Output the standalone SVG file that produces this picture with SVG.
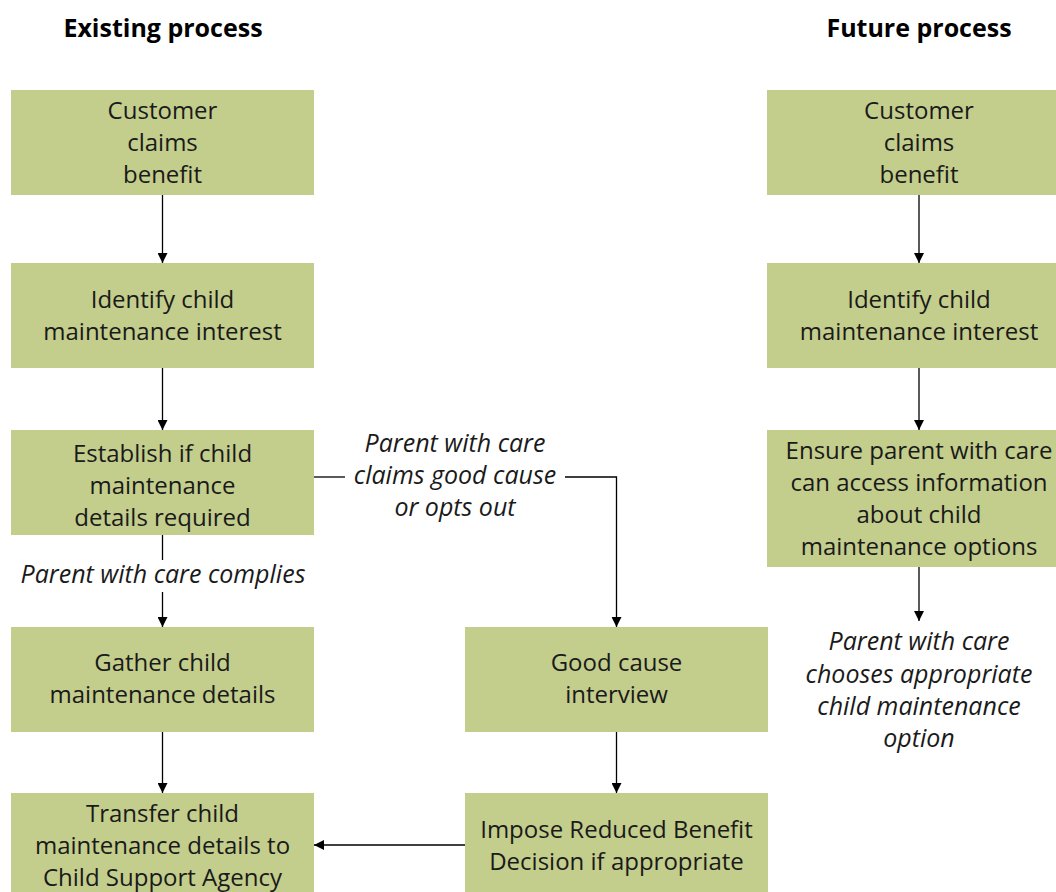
<svg xmlns="http://www.w3.org/2000/svg" width="1056" height="892" viewBox="0 0 1056 892">
<defs>
<marker id="ah" viewBox="0 0 10 10" refX="10" refY="5" markerWidth="10" markerHeight="10" markerUnits="userSpaceOnUse" orient="auto">
<path d="M0,0 L10,5 L0,10 z" fill="#000"/>
</marker>
<style>
.box{fill:#c3cd8c}
.t{font-family:"Open Sans","Noto Sans",sans-serif;font-size:24px;fill:#1a1a1a;text-anchor:middle}
.i{font-style:italic;font-size:25px}
.h{font-weight:bold;fill:#000;font-size:25px}
.c{stroke:#000;stroke-width:1.3;fill:none}
</style>
</defs>
<rect width="1056" height="892" fill="#fff"/>
<text class="t h" x="163" y="37">Existing process</text>
<text class="t h" x="919" y="37">Future process</text>

<g id="connectors">
<line class="c" x1="162.5" y1="195" x2="162.5" y2="263" marker-end="url(#ah)"/>
<line class="c" x1="162.5" y1="368" x2="162.5" y2="430" marker-end="url(#ah)"/>
<line class="c" x1="162.5" y1="535" x2="162.5" y2="560"/>
<line class="c" x1="162.5" y1="592" x2="162.5" y2="627" marker-end="url(#ah)"/>
<line class="c" x1="162.5" y1="732" x2="162.5" y2="793" marker-end="url(#ah)"/>
<line class="c" x1="314" y1="477" x2="345" y2="477"/>
<polyline class="c" points="565,477 616.5,477 616.5,627" marker-end="url(#ah)"/>
<line class="c" x1="616.5" y1="732" x2="616.5" y2="793" marker-end="url(#ah)"/>
<line class="c" x1="465" y1="845" x2="314" y2="845" marker-end="url(#ah)"/>
<line class="c" x1="919" y1="195" x2="919" y2="263" marker-end="url(#ah)"/>
<line class="c" x1="919" y1="368" x2="919" y2="430" marker-end="url(#ah)"/>
<line class="c" x1="919" y1="567" x2="919" y2="621" marker-end="url(#ah)"/>
<text class="t i" x="455" y="452">Parent with care</text>
<text class="t i" x="455" y="484">claims good cause</text>
<text class="t i" x="455" y="516">or opts out</text>
<text class="t i" x="163" y="583">Parent with care complies</text>
<text class="t i" x="919" y="650">Parent with care</text>
<text class="t i" x="919" y="683">chooses appropriate</text>
<text class="t i" x="919" y="715">child maintenance</text>
<text class="t i" x="919" y="747">option</text>
</g>

<g id="e1"><rect class="box" x="11" y="90" width="303" height="105"/>
<text class="t" x="162.5" y="119">Customer</text><text class="t" x="162.5" y="151">claims</text><text class="t" x="162.5" y="183">benefit</text></g>
<g id="e2"><rect class="box" x="11" y="263" width="303" height="105"/>
<text class="t" x="162.5" y="308">Identify child</text><text class="t" x="162.5" y="340">maintenance interest</text></g>
<g id="e3"><rect class="box" x="11" y="430" width="303" height="105"/>
<text class="t" x="162.5" y="462">Establish if child</text><text class="t" x="162.5" y="494">maintenance</text><text class="t" x="162.5" y="526">details required</text></g>
<g id="e4"><rect class="box" x="11" y="627" width="303" height="105"/>
<text class="t" x="162.5" y="671">Gather child</text><text class="t" x="162.5" y="703">maintenance details</text></g>
<g id="e5"><rect class="box" x="11" y="793" width="303" height="105"/>
<text class="t" x="162.5" y="822">Transfer child</text><text class="t" x="162.5" y="854">maintenance details to</text><text class="t" x="162.5" y="886">Child Support Agency</text></g>
<g id="m1"><rect class="box" x="465" y="627" width="303" height="105"/>
<text class="t" x="616.5" y="671">Good cause</text><text class="t" x="616.5" y="703">interview</text></g>
<g id="m2"><rect class="box" x="465" y="793" width="303" height="105"/>
<text class="t" x="616.5" y="838">Impose Reduced Benefit</text><text class="t" x="616.5" y="870">Decision if appropriate</text></g>
<g id="f1"><rect class="box" x="767" y="90" width="303" height="105"/>
<text class="t" x="919" y="119">Customer</text><text class="t" x="919" y="151">claims</text><text class="t" x="919" y="183">benefit</text></g>
<g id="f2"><rect class="box" x="767" y="263" width="303" height="105"/>
<text class="t" x="919" y="308">Identify child</text><text class="t" x="919" y="340">maintenance interest</text></g>
<g id="f3"><rect class="box" x="767" y="430" width="303" height="137"/>
<text class="t" x="919" y="459">Ensure parent with care</text><text class="t" x="919" y="491">can access information</text><text class="t" x="919" y="523">about child</text><text class="t" x="919" y="555">maintenance options</text></g>
</svg>
